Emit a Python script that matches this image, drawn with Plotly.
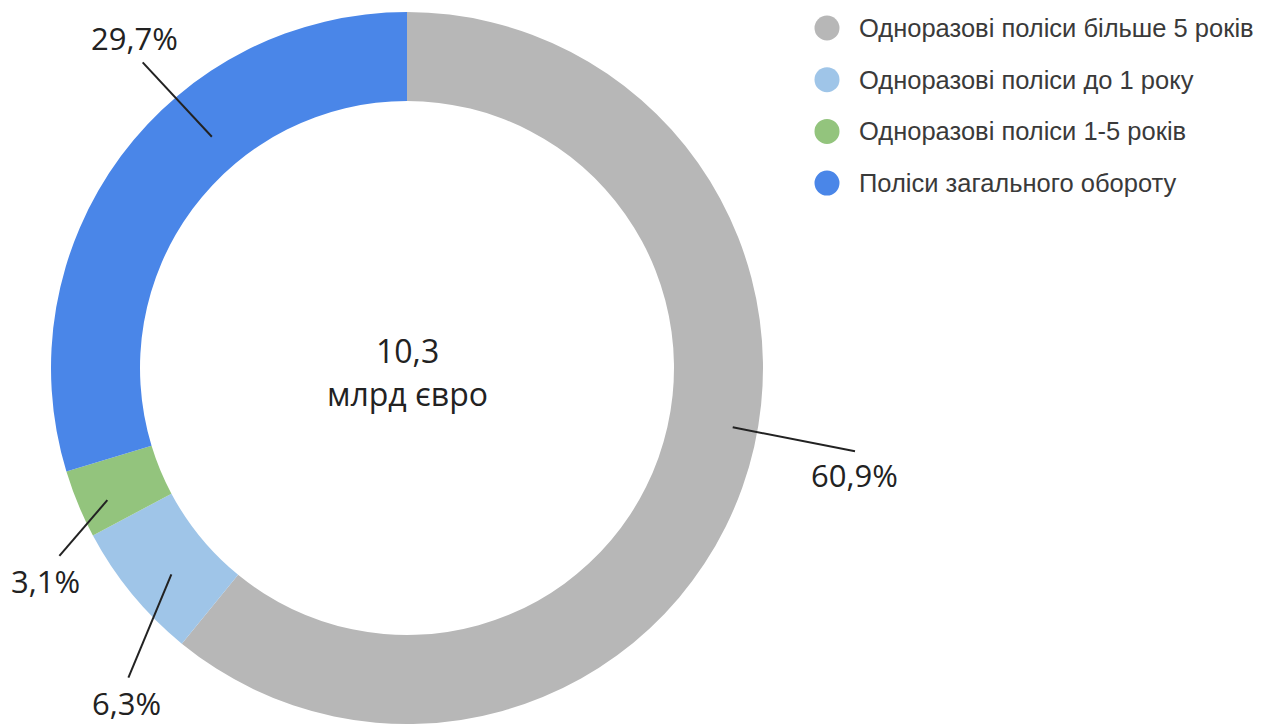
import math
import plotly.graph_objects as go

# ---- data ----
categories = [
    "Одноразові поліси більше 5 років",
    "Одноразові поліси до 1 року",
    "Одноразові поліси 1-5 років",
    "Поліси загального обороту",
]
shares = [60.9, 6.3, 3.1, 29.7]
share_labels = ["60,9%", "6,3%", "3,1%", "29,7%"]
center_value = "10,3"
center_unit = "млрд євро"

# ---- style ----
colors = ["#b7b7b7", "#9fc5e8", "#93c47d", "#4a86e8"]
W, H = 1262, 726
CX, CY, R = 407, 368, 356          # donut centre and outer radius in px
HOLE = 0.75

# leader-line tweaks per slice: (start angle shift, end angle shift, r_start, r_end, label dx, label dy)
leader = [
    (-9.3, -9.1, 0.93, 1.28, -1, 24),
    (-1.8, -8.6, 0.88, 1.17, -2, 25),
    (-1.3, -5.9, 0.92, 1.11, -14, 25),
    (13.3, 12.6, 0.85, 1.135, -8, -24),
]

def px_to_paper(x, y):
    return x / W, 1 - y / H

fig = go.Figure()
fig.add_trace(go.Pie(
    labels=categories,
    values=shares,
    hole=HOLE,
    sort=False,
    direction="clockwise",
    rotation=0,
    marker=dict(colors=colors, line=dict(width=0)),
    textinfo="none",
    hoverinfo="label+percent",
    showlegend=False,
    domain=dict(x=[(CX - R) / W, (CX + R) / W],
                y=[1 - (CY + R) / H, 1 - (CY - R) / H]),
))

shapes = []
annotations = []
total = sum(shares)
cum = 0.0
for i, v in enumerate(shares):
    mid = (cum + v / 2) / total * 360.0
    cum += v
    da1, da2, r1, r2, ldx, ldy = leader[i]
    a1 = math.radians(mid + da1)
    a2 = math.radians(mid + da2)
    x1 = CX + R * r1 * math.sin(a1)
    y1 = CY - R * r1 * math.cos(a1)
    x2 = CX + R * r2 * math.sin(a2)
    y2 = CY - R * r2 * math.cos(a2)
    p1 = px_to_paper(x1, y1)
    p2 = px_to_paper(x2, y2)
    shapes.append(dict(type="line", xref="paper", yref="paper",
                       x0=p1[0], y0=p1[1], x1=p2[0], y1=p2[1],
                       line=dict(color="#222222", width=2)))
    pl = px_to_paper(x2 + ldx, y2 + ldy)
    annotations.append(dict(xref="paper", yref="paper", x=pl[0], y=pl[1],
                            text=share_labels[i], showarrow=False,
                            xanchor="center", yanchor="middle",
                            font=dict(family="Open Sans", size=31, color="#222222")))

# centre text
for txt, py in [(center_value, 350), (center_unit, 393)]:
    p = px_to_paper(CX, py)
    annotations.append(dict(xref="paper", yref="paper", x=p[0], y=p[1], text=txt,
                            showarrow=False, xanchor="center", yanchor="middle",
                            font=dict(family="Open Sans", size=32, color="#222222")))

# legend (circles + text)
LEG_X, LEG_Y0, LEG_DY = 827, 28, 51.7
for i, name in enumerate(categories):
    cy = LEG_Y0 + i * LEG_DY
    a = px_to_paper(LEG_X - 12.5, cy - 12.5)
    b = px_to_paper(LEG_X + 12.5, cy + 12.5)
    shapes.append(dict(type="circle", xref="paper", yref="paper",
                       x0=a[0], y0=b[1], x1=b[0], y1=a[1],
                       fillcolor=colors[i], line=dict(width=0)))
    t = px_to_paper(857, cy)
    annotations.append(dict(xref="paper", yref="paper", x=t[0], y=t[1], text=name,
                            showarrow=False, xanchor="left", yanchor="middle",
                            font=dict(family="Liberation Sans", size=25.5, color="#3a3a3a")))

fig.update_layout(
    width=W, height=H,
    margin=dict(l=0, r=0, t=0, b=0),
    paper_bgcolor="white",
    plot_bgcolor="white",
    shapes=shapes,
    annotations=annotations,
)

fig.write_html("out.html")
